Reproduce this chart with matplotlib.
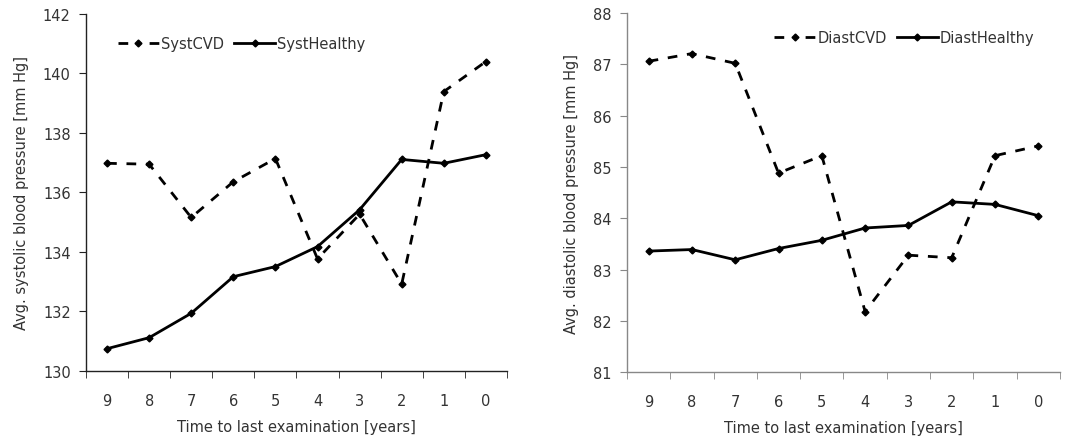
import numpy as np
import matplotlib
matplotlib.use("Agg")
import matplotlib.pyplot as plt
from matplotlib.lines import Line2D

# Data
years = ["9", "8", "7", "6", "5", "4", "3", "2", "1", "0"]
syst_cvd = [136.98, 136.95, 135.16, 136.36, 137.14, 133.77, 135.27, 132.92, 139.39, 140.40]
syst_healthy = [130.75, 131.12, 131.94, 133.17, 133.51, 134.18, 135.42, 137.11, 136.98, 137.27]
diast_cvd = [87.06, 87.21, 87.02, 84.88, 85.22, 82.18, 83.28, 83.23, 85.22, 85.41]
diast_healthy = [83.36, 83.39, 83.19, 83.41, 83.57, 83.81, 83.86, 84.32, 84.27, 84.05]

plt.rcParams['font.family'] = ['DejaVu Sans']
plt.rcParams['font.size'] = 10.5

fig = plt.figure(figsize=(10.67, 4.39), dpi=100)
ax1 = fig.add_axes([0.0806, 0.1526, 0.3945, 0.8134])
ax2 = fig.add_axes([0.5876, 0.150, 0.4058, 0.818])

x = np.arange(len(years))
txt = '#333333'


def style_axis(ax, ylim, yticks, ylabel, spine_color):
    ax.set_xlim(-0.5, len(years) - 0.5)
    ax.set_ylim(*ylim)
    ax.set_yticks(yticks)
    ax.set_xticks(x)
    ax.set_xticklabels(years)
    ax.set_xticks(np.arange(-0.5, len(years)), minor=True)
    ax.tick_params(axis='x', which='major', length=0, pad=16, colors=txt)
    ax.tick_params(axis='x', which='minor', length=5, direction='out', color=spine_color)
    ax.tick_params(axis='y', length=5, direction='out', color=spine_color,
                   colors=txt, pad=6)
    for side in ['top', 'right']:
        ax.spines[side].set_visible(False)
    for side in ['left', 'bottom']:
        ax.spines[side].set_color(spine_color)
        ax.spines[side].set_linewidth(1.0)
    ax.set_xlabel("Time to last examination [years]", color=txt, labelpad=8)
    ax.set_ylabel(ylabel, color=txt, labelpad=10)


def add_legend(ax, labels, anchor, loc):
    # proxy handles so the dashed entry reads "- ◆ -"
    handles = [
        Line2D([], [], color='black', linestyle=(0, (3.5, 7.7)), linewidth=2,
               marker='D', markersize=3.5),
        Line2D([], [], color='black', linestyle='-', linewidth=2,
               marker='D', markersize=3.5),
    ]
    ax.legend(handles, labels, loc=loc, bbox_to_anchor=anchor, frameon=False, ncol=2,
              handlelength=2.8, handletextpad=0.15, columnspacing=0.7,
              borderaxespad=0, labelcolor=txt)


dash = (0, (3.5, 3.5))
ax1.plot(x, syst_cvd, color='black', linestyle=dash, linewidth=2,
         marker='D', markersize=3.5)
ax1.plot(x, syst_healthy, color='black', linestyle='-', linewidth=2,
         marker='D', markersize=3.5)
style_axis(ax1, (130, 142), np.arange(130, 143, 2),
           "Avg. systolic blood pressure [mm Hg]", '#222222')
add_legend(ax1, ['SystCVD', 'SystHealthy'], (0.062, 0.955), 'upper left')

ax2.plot(x, diast_cvd, color='black', linestyle=dash, linewidth=2,
         marker='D', markersize=3.5)
ax2.plot(x, diast_healthy, color='black', linestyle='-', linewidth=2,
         marker='D', markersize=3.5)
style_axis(ax2, (81, 88), np.arange(81, 89, 1),
           "Avg. diastolic blood pressure [mm Hg]", '#888888')
add_legend(ax2, ['DiastCVD', 'DiastHealthy'], (0.955, 0.97), 'upper right')

fig.savefig("out.png", dpi=100)
